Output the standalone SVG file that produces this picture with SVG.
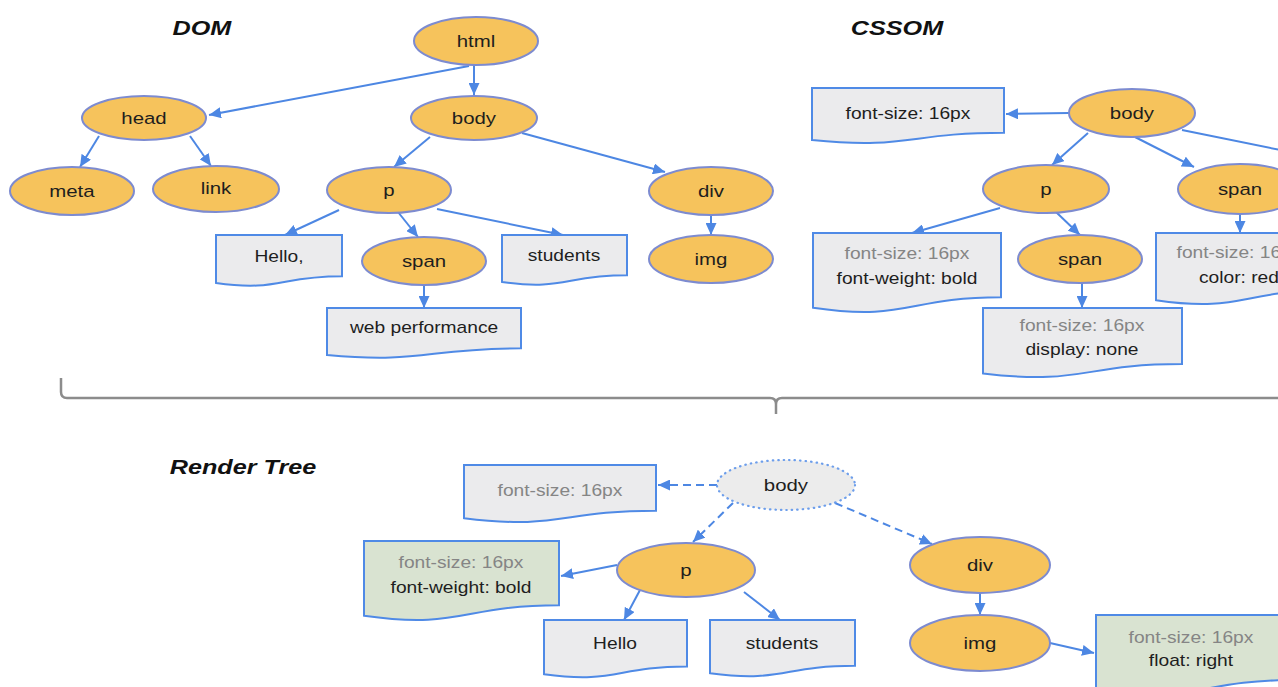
<svg xmlns="http://www.w3.org/2000/svg" width="1278" height="687" viewBox="0 0 1278 687">
<defs>
<marker id="ah" markerUnits="userSpaceOnUse" markerWidth="13" markerHeight="11" refX="12" refY="5.5" orient="auto" viewBox="0 0 13 11"><path d="M0,0 L12,5.5 L0,11 z" fill="#4d87e3"/></marker>
<style>
text{font-family:"Liberation Sans",Arial,sans-serif;text-anchor:middle;fill:#1e1e1e;transform-box:fill-box;transform-origin:center;transform:scaleX(1.2)}
.lbl{font-size:17px}
.bt{font-size:16px}
.gr{fill:#858585}
.ttl{font-size:21px;font-weight:bold;font-style:italic;fill:#111}
.nd{fill:#f6c35c;stroke:#7d8bd0;stroke-width:2}
.dot{fill:#ececec;stroke:#6d9eeb;stroke-width:2.2;stroke-dasharray:0.5 5;stroke-linecap:round}
.doc{fill:#ebebed;stroke:#4f8ae6;stroke-width:2}
.grn{fill:#d9e3d1;stroke:#4f8ae6;stroke-width:2}
.c{stroke:#4d87e3;stroke-width:2;fill:none;marker-end:url(#ah)}
.dsh{stroke-dasharray:8 5}
.brace{fill:none;stroke:#8c8c8c;stroke-width:2.5}
</style>
</defs>
<rect width="1278" height="687" fill="#ffffff"/>

<g id="titles">
<text class="ttl" x="202" y="35">DOM</text>
<text class="ttl" x="897" y="35">CSSOM</text>
<text class="ttl" x="243" y="474">Render Tree</text>
</g>

<g id="connectors">
<line class="c" x1="469" y1="66" x2="209" y2="115"/>
<line class="c" x1="474" y1="65" x2="474" y2="95"/>
<line class="c" x1="99" y1="136" x2="80" y2="167"/>
<line class="c" x1="190" y1="136" x2="211" y2="166"/>
<line class="c" x1="430" y1="137" x2="394" y2="167"/>
<line class="c" x1="522" y1="133" x2="665" y2="172"/>
<line class="c" x1="339" y1="210" x2="285" y2="235"/>
<line class="c" x1="398" y1="212" x2="418" y2="237"/>
<line class="c" x1="437" y1="209" x2="563" y2="235"/>
<line class="c" x1="424" y1="285" x2="424" y2="308"/>
<line class="c" x1="711" y1="215" x2="711" y2="235"/>

<line class="c" x1="1069" y1="113" x2="1006" y2="114"/>
<line class="c" x1="1088" y1="133" x2="1052" y2="165"/>
<line class="c" x1="1135" y1="137" x2="1194" y2="167"/>
<line x1="1182" y1="130" x2="1290" y2="152" stroke="#4d87e3" stroke-width="2"/>
<line class="c" x1="1000" y1="208" x2="912" y2="233"/>
<line class="c" x1="1056" y1="212" x2="1080" y2="235"/>
<line class="c" x1="1240" y1="215" x2="1240" y2="233"/>
<line class="c" x1="1082" y1="283" x2="1082" y2="308"/>

<line class="c dsh" x1="717" y1="485" x2="658" y2="485"/>
<line class="c dsh" x1="733" y1="503" x2="693" y2="542"/>
<line class="c dsh" x1="835" y1="503" x2="932" y2="544"/>
<line class="c" x1="617" y1="565" x2="561" y2="576"/>
<line class="c" x1="640" y1="590" x2="624" y2="620"/>
<line class="c" x1="744" y1="592" x2="780" y2="620"/>
<line class="c" x1="980" y1="593" x2="980" y2="615"/>
<line class="c" x1="1050" y1="643" x2="1094" y2="653"/>
</g>

<g id="brace">
<path class="brace" d="M61,378 V392 Q61,398 67,398 H770 Q776,398 776,404 V414 M776,404 Q776,398 782,398 H1280"/>
</g>

<!-- DOM -->
<g id="dom-html"><ellipse class="nd" cx="476" cy="41" rx="62" ry="24"/><text class="lbl" x="476" y="47">html</text></g>
<g id="dom-head"><ellipse class="nd" cx="144" cy="118" rx="62" ry="22"/><text class="lbl" x="144" y="124">head</text></g>
<g id="dom-body"><ellipse class="nd" cx="474" cy="118" rx="63" ry="22"/><text class="lbl" x="474" y="124">body</text></g>
<g id="dom-meta"><ellipse class="nd" cx="72" cy="191" rx="62" ry="24"/><text class="lbl" x="72" y="197">meta</text></g>
<g id="dom-link"><ellipse class="nd" cx="216" cy="189" rx="63" ry="23"/><text class="lbl" x="216" y="194">link</text></g>
<g id="dom-p"><ellipse class="nd" cx="389" cy="190" rx="62" ry="23"/><text class="lbl" x="389" y="196">p</text></g>
<g id="dom-div"><ellipse class="nd" cx="711" cy="191" rx="62" ry="24"/><text class="lbl" x="711" y="197">div</text></g>
<g id="dom-img"><ellipse class="nd" cx="711" cy="259" rx="62" ry="24"/><text class="lbl" x="711" y="265">img</text></g>
<g id="dom-span"><ellipse class="nd" cx="424" cy="261" rx="62" ry="24"/><text class="lbl" x="424" y="267">span</text></g>
<g id="dom-hello"><path class="doc" d="M216,235 H342 V276.2 C279,276.2 279,291.9 216,283 Z"/><text class="bt" x="279" y="262">Hello,</text></g>
<g id="dom-students"><path class="doc" d="M502,235 H627 V275.3 C564.5,275.3 564.5,290.7 502,282 Z"/><text class="bt" x="564" y="261">students</text></g>
<g id="dom-webperf"><path class="doc" d="M327,308 H521 V348.3 C424,348.3 424,363.7 327,355 Z"/><text class="bt" x="424" y="333">web performance</text></g>

<!-- CSSOM -->
<g id="css-body"><ellipse class="nd" cx="1132" cy="113" rx="63" ry="24"/><text class="lbl" x="1132" y="119">body</text></g>
<g id="css-body-style"><path class="doc" d="M812,88 H1004 V132.7 C908,132.7 908,149.7 812,140 Z"/><text class="bt" x="908" y="119">font-size: 16px</text></g>
<g id="css-p"><ellipse class="nd" cx="1046" cy="189" rx="63" ry="24"/><text class="lbl" x="1046" y="195">p</text></g>
<g id="css-span-r"><ellipse class="nd" cx="1240" cy="189" rx="62" ry="25"/><text class="lbl" x="1240" y="195">span</text></g>
<g id="css-span-m"><ellipse class="nd" cx="1080" cy="259" rx="62" ry="24"/><text class="lbl" x="1080" y="265">span</text></g>
<g id="css-p-style"><path class="doc" d="M813,233 H1001 V297.2 C907,297.2 907,321.6 813,307.7 Z"/><text class="bt gr" x="907" y="259">font-size: 16px</text><text class="bt" x="907" y="284">font-weight: bold</text></g>
<g id="css-span-m-style"><path class="doc" d="M983,308 H1182 V364.1 C1082.5,364.1 1082.5,385.5 983,373.4 Z"/><text class="bt gr" x="1082" y="331">font-size: 16px</text><text class="bt" x="1082" y="355">display: none</text></g>
<g id="css-span-r-style"><path class="doc" d="M1156,233 H1326 V290.7 C1241,290.7 1241,312.7 1156,300.2 Z"/><text class="bt gr" x="1239" y="258">font-size: 16px</text><text class="bt" x="1239" y="283">color: red</text></g>

<!-- Render tree -->
<g id="rt-body"><ellipse class="dot" cx="786" cy="485" rx="69" ry="25"/><text class="lbl" x="786" y="491">body</text></g>
<g id="rt-body-style"><path class="doc" d="M464,465 H656 V510.7 C560,510.7 560,530.1 464,518.2 Z"/><text class="bt gr" x="560" y="496">font-size: 16px</text></g>
<g id="rt-p"><ellipse class="nd" cx="686" cy="570" rx="69" ry="27"/><text class="lbl" x="686" y="576">p</text></g>
<g id="rt-p-style"><path class="grn" d="M364,541 H559 V605.2 C461.5,605.2 461.5,629.6 364,615.7 Z"/><text class="bt gr" x="461" y="568">font-size: 16px</text><text class="bt" x="461" y="593">font-weight: bold</text></g>
<g id="rt-hello"><path class="doc" d="M544,620 H687 V666.5 C615.5,666.5 615.5,684.2 544,674.2 Z"/><text class="bt" x="615" y="649">Hello</text></g>
<g id="rt-students"><path class="doc" d="M710,620 H855 V665.7 C782.5,665.7 782.5,683.1 710,673.2 Z"/><text class="bt" x="782" y="649">students</text></g>
<g id="rt-div"><ellipse class="nd" cx="980" cy="565" rx="70" ry="28"/><text class="lbl" x="980" y="571">div</text></g>
<g id="rt-img"><ellipse class="nd" cx="980" cy="643" rx="70" ry="28"/><text class="lbl" x="980" y="649">img</text></g>
<g id="rt-img-style"><path class="grn" d="M1096,615 H1296 V680 C1196,680 1196,704.7 1096,690.7 Z"/><text class="bt gr" x="1191" y="643">font-size: 16px</text><text class="bt" x="1191" y="666">float: right</text></g>
</svg>
